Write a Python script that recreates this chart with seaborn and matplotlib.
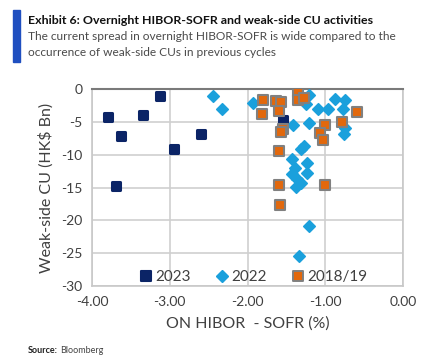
import numpy as np
import pandas as pd
import matplotlib.pyplot as plt
import seaborn as sns
from matplotlib.patches import Rectangle
from matplotlib.lines import Line2D
from matplotlib.markers import MarkerStyle

# 2023
x_2023 = [-3.80, -3.63, -3.35, -3.12, -2.95, -2.60, -3.69, -1.55]
y_2023 = [-4.3, -7.1, -3.9, -1.0, -9.1, -6.9, -14.8, -4.7]

# 2022
x_2022 = [-2.45, -2.33, -1.93, -1.21, -1.25, -1.10, -0.97, -0.87, -0.75, -0.77,
          -1.41, -1.21, -0.75, -0.76, -1.27, -1.31, -1.43, -1.24, -1.39, -1.235,
          -1.43, -1.36, -1.31, -1.38, -1.21, -1.34]
y_2022 = [-1.0, -3.1, -2.2, -0.9, -2.3, -3.0, -3.0, -1.5, -1.6, -3.1,
          -5.4, -5.2, -6.0, -6.9, -8.6, -9.1, -10.6, -11.2, -12.0, -12.8,
          -12.9, -13.7, -14.3, -14.9, -20.8, -25.4]

# 2018/19
x_1819 = [-1.80, -1.81, -1.64, -1.57, -1.60, -1.55, -1.57, -1.59, -1.59, -1.58,
          -1.35, -1.35, -1.28, -1.00, -1.07, -1.03, -0.78, -0.59, -1.00]
y_1819 = [-1.6, -3.8, -1.8, -1.9, -3.3, -6.1, -6.6, -9.4, -14.6, -17.6,
          -0.5, -1.7, -1.4, -5.5, -6.7, -7.8, -5.0, -3.5, -14.6]

series = ["2023", "2022", "2018/19"]
x_ticks = [-4.0, -3.0, -2.0, -1.0, 0.0]
y_ticks = [0, -5, -10, -15, -20, -25, -30]

navy = "#0b2466"
lblue = "#1aa0dc"
orange = "#e2680c"
edge = "#808080"

sns.set_style("white")
plt.rcParams["font.family"] = ["Lato", "DejaVu Sans"]

fig = plt.figure(figsize=(4.27, 3.59), dpi=100)
ax = fig.add_axes([0.2155, 0.203, 0.7285, 0.549])

df23 = pd.DataFrame({"x": x_2023, "y": y_2023})
df22 = pd.DataFrame({"x": x_2022, "y": y_2022})
df18 = pd.DataFrame({"x": x_1819, "y": y_1819})

sns.scatterplot(data=df23, x="x", y="y", ax=ax, marker="s", s=38, color=navy,
                edgecolor=navy, linewidth=2.2, zorder=3)
ax.collections[-1].set_joinstyle("round")
sns.scatterplot(data=df22, x="x", y="y", ax=ax, marker="D", s=34, color=lblue,
                edgecolor=lblue, linewidth=1.2, zorder=4)
ax.collections[-1].set_joinstyle("round")
sns.scatterplot(data=df18, x="x", y="y", ax=ax, marker="s", s=46, color=orange,
                edgecolor=edge, linewidth=1.5, zorder=5)
ax.collections[-1].set_joinstyle("round")

ax.set_xlim(-4, 0)
ax.set_ylim(-30, 0)
ax.set_xticks(x_ticks)
ax.set_xticklabels([f"{v:.2f}" for v in x_ticks])
ax.set_yticks(y_ticks)
ax.set_yticklabels([str(v) for v in y_ticks])
ax.grid(True, color="#cfcfcf", linewidth=1.2)
ax.set_axisbelow(True)
for side in ["left", "right", "bottom"]:
    ax.spines[side].set_color("#c8c8c8")
    ax.spines[side].set_linewidth(1.2)
ax.spines["top"].set_color("#7a7a7a")
ax.spines["top"].set_linewidth(1.5)
ax.tick_params(axis="both", length=0, labelsize=10, labelcolor="#404040", pad=7)

ax.set_xlabel("ON HIBOR  - SOFR (%)", fontsize=11.5, color="#404040", labelpad=6)
ax.set_ylabel("Weak-side CU (HK$ Bn)", fontsize=11.5, color="#404040", labelpad=5)

handles = [
    Line2D([], [], marker=MarkerStyle("s", joinstyle="round"), linestyle="",
           markersize=6.5, color=navy, markeredgewidth=1.5),
    Line2D([], [], marker="D", linestyle="", markersize=6, color=lblue),
    Line2D([], [], marker=MarkerStyle("s", joinstyle="round"), linestyle="",
           markersize=6.5, markerfacecolor=orange, markeredgecolor=edge,
           markeredgewidth=1.4),
]
ax.legend(handles, series, loc="lower center", ncol=3, frameon=False,
          fontsize=11, handletextpad=0.0, columnspacing=1.45, handlelength=1.2,
          bbox_to_anchor=(0.515, -0.06), labelcolor="#404040")

fig.patches.append(Rectangle((0.030, 0.827), 0.017, 0.145, transform=fig.transFigure,
                             color="#1f4fc0", figure=fig))
fig.text(0.066, 0.944, "Exhibit 6: Overnight HIBOR-SOFR and weak-side CU activities",
         fontsize=8.9, fontweight="bold", va="center", ha="left", color="#111111")
fig.text(0.066, 0.897, "The current spread in overnight HIBOR-SOFR is wide compared to the",
         fontsize=8.6, va="center", ha="left", color="#4a4a4a")
fig.text(0.066, 0.855, "occurrence of weak-side CUs in previous cycles",
         fontsize=8.6, va="center", ha="left", color="#4a4a4a")
fig.text(0.066, 0.025, "Source:", fontsize=6.5, fontweight="bold", va="center",
         ha="left", color="#222222")
fig.text(0.140, 0.025, "Bloomberg", fontsize=6.5, va="center", ha="left", color="#444444")

fig.savefig("out.png", dpi=100)
